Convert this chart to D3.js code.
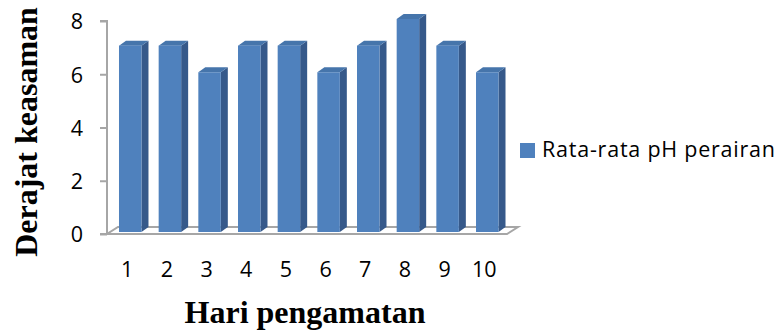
<!DOCTYPE html>
<html>
<head>
<meta charset="utf-8">
<script src="https://cdn.jsdelivr.net/npm/d3@7"></script>
<style>
  html, body { margin: 0; padding: 0; background: #fff; }
  svg { display: block; }
</style>
</head>
<body>
<svg id="chart" width="777" height="331"></svg>
<script>
// Daily average pH of the water, 10 observation days
const days = ["1", "2", "3", "4", "5", "6", "7", "8", "9", "10"];
const phValues = [7, 7, 6, 7, 7, 6, 7, 8, 7, 6];
const yTicks = [0, 2, 4, 6, 8];
const seriesName = "Rata-rata pH perairan";
const xTitle = "Hari pengamatan";
const yTitle = "Derajat keasaman";

const svg = d3.select("#chart");
const sansFont = "'Open Sans', 'Noto Sans', sans-serif";
const serifFont = "'Liberation Serif', 'DejaVu Serif', serif";
const labelSize = 21.5;

const colFront = "#4f81bd";
const colTop = "#4675ab";
const colSide = "#36598a";
const axisGray = "#a6a6a6";

// Scales
const y = d3.scaleLinear().domain([0, 8]).range([234, 21]);
const x = d3.scaleBand().domain(days).range([110.4, 507.1])
  .paddingInner(0.433).paddingOuter(0.2165);
const bw = x.bandwidth();

// 3D depth of columns and floor
const depth = { dx: 7, dy: -5 };
const floorDepth = { dx: 11, dy: -7 };
const lift = 2; // column front face sits slightly above the front floor edge

// Floor
const floorFrontY = y(0);
const floorL = 107, floorR = 507;
svg.append("path")
  .attr("d", `M${floorL},${floorFrontY} L${floorR},${floorFrontY} L${floorR + floorDepth.dx},${floorFrontY + floorDepth.dy} L${floorL + floorDepth.dx},${floorFrontY + floorDepth.dy} Z`)
  .attr("fill", "none")
  .attr("stroke", axisGray)
  .attr("stroke-width", 2)
  .attr("stroke-linejoin", "miter");

// Value axis
const yAxis = d3.axisLeft(y).tickValues(yTicks).tickSize(7).tickPadding(17).tickFormat(d3.format("d"));
const yAxisG = svg.append("g").attr("transform", "translate(107,0)").call(yAxis);
yAxisG.select(".domain").attr("stroke", axisGray).attr("stroke-width", 2)
  .attr("d", `M-7,${y(8)}H0V${y(0)}H-7`);
yAxisG.selectAll(".tick line").attr("stroke", axisGray).attr("stroke-width", 2);
yAxisG.selectAll(".tick text")
  .attr("font-family", sansFont).attr("font-size", labelSize).attr("fill", "#000")
  .attr("dy", "0.36em");

// Columns
const bars = svg.append("g").selectAll("g").data(days.map((d, i) => ({ day: d, v: phValues[i] })))
  .join("g");

bars.each(function(d) {
  const g = d3.select(this);
  const x0 = x(d.day), x1 = x0 + bw;
  const yt = y(d.v) - lift, yb = y(0) - lift;
  const { dx, dy } = depth;
  // side face
  g.append("path")
    .attr("d", `M${x1},${yt} L${x1 + dx},${yt + dy} L${x1 + dx},${yb + dy} L${x1},${yb} Z`)
    .attr("fill", colSide);
  // top face
  g.append("path")
    .attr("d", `M${x0},${yt} L${x0 + dx},${yt + dy} L${x1 + dx},${yt + dy} L${x1},${yt} Z`)
    .attr("fill", colTop);
  // front face
  g.append("rect")
    .attr("x", x0).attr("y", yt).attr("width", bw).attr("height", yb - yt)
    .attr("fill", colFront);
});

// Category labels
svg.append("g").selectAll("text").data(days).join("text")
  .attr("x", d => x(d) + bw / 2 - 3)
  .attr("y", 277)
  .attr("text-anchor", "middle")
  .attr("font-family", sansFont).attr("font-size", labelSize).attr("fill", "#000")
  .text(d => d);

// Axis titles
svg.append("text")
  .attr("x", 305).attr("y", 322.5)
  .attr("text-anchor", "middle")
  .attr("font-family", serifFont).attr("font-weight", "bold").attr("font-size", 32)
  .attr("fill", "#000")
  .text(xTitle);

svg.append("text")
  .attr("transform", "translate(37,132) rotate(-90)")
  .attr("text-anchor", "middle")
  .attr("font-family", serifFont).attr("font-weight", "bold").attr("font-size", 32)
  .attr("fill", "#000")
  .text(yTitle);

// Legend
const legend = svg.append("g").attr("transform", "translate(520,143)");
legend.append("rect").attr("width", 15).attr("height", 15).attr("fill", colFront);
legend.append("text")
  .attr("x", 22).attr("y", 14)
  .attr("font-family", sansFont).attr("font-size", labelSize).attr("fill", "#000")
  .attr("textLength", 233).attr("lengthAdjust", "spacing")
  .text(seriesName);
</script>
</body>
</html>
